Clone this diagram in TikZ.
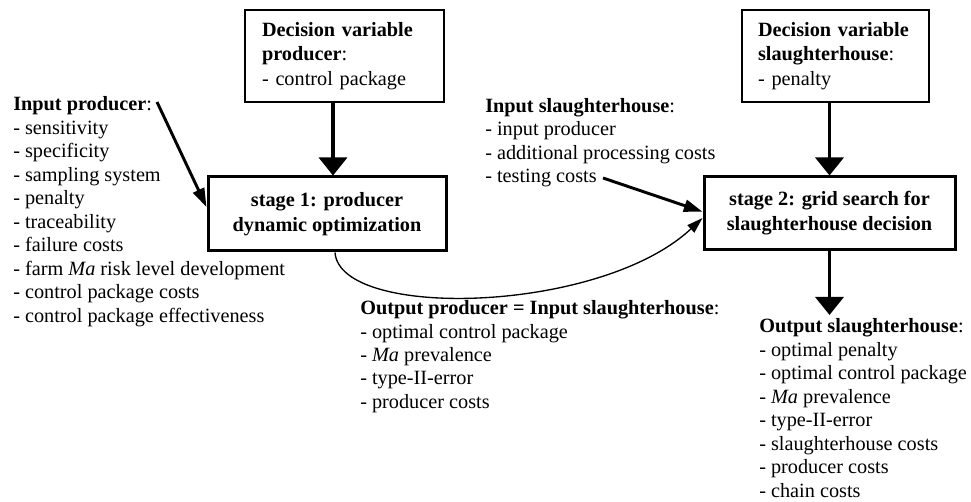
\documentclass[tikz,border=0pt]{standalone}
\usepackage{fontspec}
\setmainfont{Liberation Serif}
\usetikzlibrary{arrows.meta}
\begin{document}
\begin{tikzpicture}[x=0.75pt,y=-0.75pt,
  every node/.style={font=\fontsize{15.2}{17.6}\selectfont},
  thinbox/.style={draw, line width=1.1pt, minimum height=69pt, align=left,
    inner xsep=12.75pt, inner ysep=0pt, font=\fontsize{15.2}{18.4}\selectfont},
  stagebox/.style={draw, line width=2.25pt, align=center, inner sep=0pt,
    font=\fontsize{15.2}{18.6}\selectfont\bfseries},
  txt/.style={anchor=north west, align=left, inner sep=0pt},
  bigarrow/.style={line width=2.6pt, -{Triangle[length=13.5pt,width=21pt]}},
  slantarrow/.style={line width=2.2pt, -{Triangle[length=14pt,width=9pt]}},
  curvearrow/.style={line width=1pt, -{Triangle[length=12pt,width=7.5pt]}}
]
\useasboundingbox (0,0) rectangle (971,502);

% boxes
\node[thinbox, text width=123.75pt, minimum width=149.25pt] (dvp) at (344.5,56)
  {\textbf{Decision variable}\\\textbf{producer}:\\- control package};
\node[thinbox, text width=116.25pt, inner xsep=12pt, minimum width=140.25pt] (dvs) at (835.5,56)
  {\textbf{Decision variable}\\\textbf{slaughterhouse}:\\- penalty};
\node[stagebox, minimum width=178.5pt, minimum height=55.5pt] (s1) at (327,214)
  {stage 1: producer\\dynamic optimization};
\node[stagebox, minimum width=188.25pt, minimum height=54.75pt] (s2) at (829.5,213.5)
  {stage 2: grid search for\\slaughterhouse decision};

% text blocks
\node[txt] (ip) at (13,94.3) {\strut\textbf{Input producer}:\\
  - sensitivity\\
  - specificity\\
  - sampling system\\
  - penalty\\
  - traceability\\
  - failure costs\\
  - farm \textit{Ma} risk level development\\
  - control package costs\\
  - control package effectiveness};
\node[txt] (is) at (485,95.6) {\strut\textbf{Input slaughterhouse}:\\
  - input producer\\
  - additional processing costs\\
  - testing costs};
\node[txt] (op) at (360,297.9) {\strut\textbf{Output producer = Input slaughterhouse}:\\
  - optimal control package\\
  - \textit{Ma} prevalence\\
  - type-II-error\\
  - producer costs};
\node[txt] (os) at (759,316.1) {\strut\textbf{Output slaughterhouse}:\\
  - optimal penalty\\
  - optimal control package\\
  - \textit{Ma} prevalence\\
  - type-II-error\\
  - slaughterhouse costs\\
  - producer costs\\
  - chain costs};

% free ends
\coordinate (ipa) at (157,102);
\coordinate (tca) at (603,178);
\coordinate (osa) at (829.5,315);

% connectors
\draw[bigarrow] ([xshift=-8.625pt]dvp.south) -- ([xshift=4.5pt]s1.north);
\draw[bigarrow] (dvs.south -| s2.north) -- (s2.north);
\draw[bigarrow] (s2.south) -- (osa);
\draw[slantarrow] (ipa) -- ([yshift=5.25pt]s1.west);
\draw[slantarrow] (tca) -- ([yshift=1.35pt]s2.west);
\draw[curvearrow] ([xshift=6pt]s1.south) .. controls (340,320) and (600,314) .. ([yshift=-3.4pt]s2.west);
\end{tikzpicture}
\end{document}
